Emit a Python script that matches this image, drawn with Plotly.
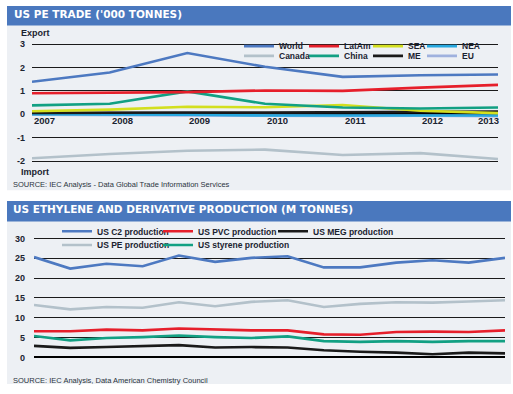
import plotly.graph_objects as go

W, H = 513, 394


def px(x):
    return x / W


def py(y):
    return 1 - y / H


# ---------------- data ----------------
trade_years = [2007, 2008, 2009, 2010, 2011, 2012, 2013]
world = [1.39, 1.79, 2.62, 2.03, 1.60, 1.67, 1.70]
latam = [0.90, 0.92, 0.95, 1.02, 1.00, 1.14, 1.26]
sea = [0.13, 0.20, 0.32, 0.30, 0.40, 0.15, 0.05]
nea = [0.00, 0.00, -0.02, -0.05, -0.05, -0.03, -0.05]
canada = [-1.88, -1.70, -1.56, -1.51, -1.74, -1.66, -1.91]
china = [0.38, 0.45, 0.98, 0.45, 0.29, 0.25, 0.29]
me = [0.06, 0.08, 0.08, 0.07, 0.08, 0.12, 0.12]
eu = [-0.02, -0.03, -0.05, -0.08, -0.07, -0.06, -0.08]
trade_ticks = [-2, -1, 0, 1, 2, 3]

prod_years = list(range(2000, 2014))
c2 = [25.3, 22.4, 23.6, 23.0, 25.7, 24.1, 25.1, 25.5, 22.7, 22.7, 23.9, 24.5, 23.9, 25.1]
pe = [13.2, 12.1, 12.7, 12.5, 13.9, 12.9, 14.0, 14.4, 12.7, 13.5, 13.9, 13.8, 14.1, 14.4]
pvc = [6.6, 6.6, 7.0, 6.8, 7.3, 7.0, 6.8, 6.8, 5.8, 5.7, 6.4, 6.5, 6.4, 6.8]
styrene = [5.4, 4.3, 4.9, 5.1, 5.5, 5.1, 4.9, 5.3, 4.1, 3.9, 4.1, 3.9, 4.1, 4.1]
meg = [2.9, 2.4, 2.6, 2.9, 3.1, 2.5, 2.6, 2.5, 1.8, 1.4, 1.2, 0.8, 1.2, 1.0]
prod_ticks = [0, 5, 10, 15, 20, 25, 30]

# ---------------- styling ----------------
BLUE = "#4d79c1"
RED = "#e61f2b"
YELLOW = "#d3df1f"
CYAN = "#27a8df"
GREY = "#b3c1ca"
TEAL = "#12a083"
BLACK = "#1a1a1a"
LAV = "#9fb1de"
BAR = "#4a78be"
PANEL = "#edf0f4"
TXT = "#1b2330"
LF = "Liberation Sans"
TF = "DejaVu Sans"
LW = 2.6

fig = go.Figure()

# top chart traces (draw order), with legend placement
top_series = [
    ("Canada", canada, GREY, "legend2", 1, 20),
    ("EU", eu, LAV, "legend2", 4, None),
    ("NEA", nea, CYAN, "legend", 4, None),
    ("ME", me, BLACK, "legend2", 3, 9),
    ("SEA", sea, YELLOW, "legend", 3, 9),
    ("China", china, TEAL, "legend2", 2, 19),
    ("LatAm", latam, RED, "legend", 2, 19),
    ("World", world, BLUE, "legend", 1, 20),
]
for name, vals, col, leg, rank, lw in top_series:
    kw = dict(legendwidth=lw) if lw else {}
    fig.add_trace(go.Scatter(
        x=trade_years, y=vals, name=name, mode="lines",
        line=dict(color=col, width=LW), legend=leg, legendrank=rank,
        xaxis="x", yaxis="y", hoverinfo="skip", **kw))

bot_series = [
    ("US MEG production", meg, BLACK, "legend3", 3, None),
    ("US styrene production", styrene, TEAL, "legend4", 2, None),
    ("US PVC production", pvc, RED, "legend3", 2, 70),
    ("US PE production", pe, GREY, "legend4", 1, 56),
    ("US C2 production", c2, BLUE, "legend3", 1, 56),
]
for name, vals, col, leg, rank, lw in bot_series:
    kw = dict(legendwidth=lw) if lw else {}
    fig.add_trace(go.Scatter(
        x=prod_years, y=vals, name=name, mode="lines",
        line=dict(color=col, width=LW), legend=leg, legendrank=rank,
        xaxis="x2", yaxis="y2", hoverinfo="skip", **kw))

# ---------------- axes ----------------
tick_font = dict(family=LF, size=9, color=TXT, weight="bold")

top_pad = 0.05
top_unit = (160.3 - 41.0) / 5
bot_pad = 0.6
bot_unit = (360.7 - 239.3) / 30

axis_common = dict(showline=False, ticks="", fixedrange=True)

fig.update_layout(
    xaxis=dict(domain=[px(32), px(498)], range=[trade_years[0], trade_years[-1]],
               anchor="y", showgrid=False, zeroline=False, showticklabels=False, **axis_common),
    yaxis=dict(domain=[py(160.3 + top_pad * top_unit), py(41.0 - top_pad * top_unit)],
               range=[trade_ticks[0] - top_pad, trade_ticks[-1] + top_pad], anchor="x",
               tickvals=trade_ticks, ticktext=[str(v) for v in trade_ticks],
               showgrid=True, gridcolor=BLACK, gridwidth=1,
               zeroline=True, zerolinecolor="#000000", zerolinewidth=2.2,
               tickfont=tick_font, ticklabelstandoff=6, **axis_common),
    xaxis2=dict(domain=[px(34), px(505)], range=[prod_years[0], prod_years[-1]],
                anchor="y2", showgrid=False, zeroline=False, showticklabels=False, **axis_common),
    xaxis3=dict(domain=[px(34), px(505)], overlaying="x2", anchor="y2",
                range=[prod_years[0] - 0.35, prod_years[-1] + 0.38],
                tickvals=prod_years, ticktext=[str(v) for v in prod_years],
                showgrid=False, zeroline=False, ticklabelstandoff=1,
                tickfont=dict(family=LF, size=9.5, color=TXT, weight="bold"), **axis_common),
    yaxis2=dict(domain=[py(360.7 + bot_pad * bot_unit), py(239.3 - bot_pad * bot_unit)],
                range=[prod_ticks[0] - bot_pad, prod_ticks[-1] + bot_pad], anchor="x2",
                tickvals=prod_ticks, ticktext=[str(v) for v in prod_ticks],
                showgrid=True, gridcolor=BLACK, gridwidth=1,
                zeroline=True, zerolinecolor="#000000", zerolinewidth=1.5,
                tickfont=tick_font, ticklabelstandoff=8, **axis_common),
)

# ---------------- legends ----------------
leg_font = dict(family=LF, size=8.5, color=TXT, weight="bold")
leg_common = dict(orientation="h", xanchor="left", yanchor="middle", bgcolor="rgba(0,0,0,0)",
                  borderwidth=0, font=leg_font, itemwidth=30, traceorder="normal")
fig.update_layout(
    legend=dict(x=px(239), y=py(43), **leg_common),
    legend2=dict(x=px(239), y=py(53), **leg_common),
    legend3=dict(x=px(57), y=py(232), **leg_common),
    legend4=dict(x=px(57), y=py(246), **leg_common),
)

# ---------------- panels and title bars ----------------
shapes = [
    dict(type="rect", xref="paper", yref="paper", x0=px(7), x1=px(511), y0=py(190), y1=py(2),
         fillcolor=PANEL, line=dict(width=0), layer="below"),
    dict(type="rect", xref="paper", yref="paper", x0=px(7), x1=px(511), y0=py(22), y1=py(2),
         fillcolor=BAR, line=dict(width=0), layer="below"),
    dict(type="rect", xref="paper", yref="paper", x0=px(7), x1=px(511), y0=py(388), y1=py(201),
         fillcolor=PANEL, line=dict(width=0), layer="below"),
    dict(type="rect", xref="paper", yref="paper", x0=px(7), x1=px(511), y0=py(222), y1=py(201),
         fillcolor=BAR, line=dict(width=0), layer="below"),
]

ann = []
title_font = dict(family=TF, size=10.5, color="white", weight="bold")
ann.append(dict(text="US PE TRADE ('000 TONNES)", x=px(12), y=py(10), xref="paper", yref="paper",
                xanchor="left", yanchor="middle", showarrow=False, font=title_font))
ann.append(dict(text="US ETHYLENE AND DERIVATIVE PRODUCTION (M TONNES)", x=px(11), y=py(209.5),
                xref="paper", yref="paper", xanchor="left", yanchor="middle", showarrow=False,
                font=title_font))
lab_font = dict(family=LF, size=9, color=TXT, weight="bold")
ann.append(dict(text="Export", x=px(19), y=py(29.5), xref="paper", yref="paper", xanchor="left",
                yanchor="middle", showarrow=False, font=lab_font))
ann.append(dict(text="Import", x=px(19), y=py(171.5), xref="paper", yref="paper", xanchor="left",
                yanchor="middle", showarrow=False, font=lab_font))
src_font = dict(family=LF, size=7.5, color="#2a3340")
ann.append(dict(text="SOURCE: IEC Analysis - Data Global Trade Information Services", x=px(11),
                y=py(184), xref="paper", yref="paper", xanchor="left", yanchor="middle",
                showarrow=False, font=src_font))
ann.append(dict(text="SOURCE: IEC Analysis, Data American Chemistry Council", x=px(11),
                y=py(384), xref="paper", yref="paper", xanchor="left", yanchor="middle",
                showarrow=False, font=src_font))
# year labels of the trade chart, sitting under the zero line
for i, yr in enumerate(trade_years):
    last = i == len(trade_years) - 1
    ann.append(dict(text=str(yr), x=yr, y=0, xref="x", yref="y",
                    xanchor="right" if last else "left", xshift=3 if last else 0,
                    yanchor="top", yshift=1, showarrow=False,
                    font=dict(family=LF, size=9.5, color=TXT, weight="bold")))

fig.update_layout(
    width=W, height=H, margin=dict(l=0, r=0, t=0, b=0),
    paper_bgcolor="white", plot_bgcolor="rgba(0,0,0,0)",
    shapes=shapes, annotations=ann, showlegend=True,
)

fig.write_html("out.html", config={"displayModeBar": False},
               post_script="document.body.style.margin='0px';")
